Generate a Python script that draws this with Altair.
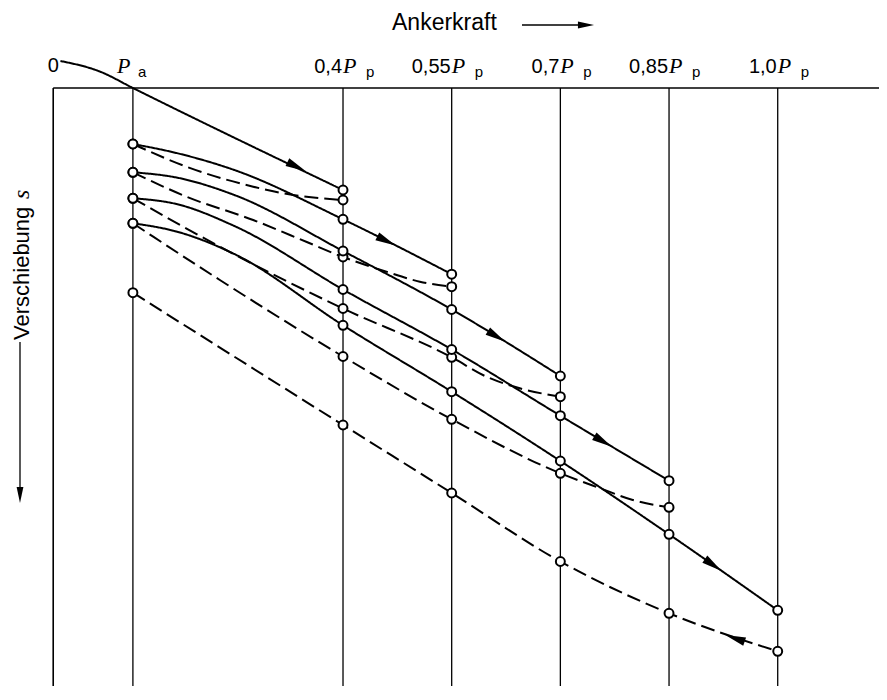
import altair as alt
import pandas as pd

# ---------------- data ----------------
# load levels as fraction of Pp (Pa is the pre-load)
PA = 0.11
levels = [PA, 0.4, 0.55, 0.7, 0.85, 1.0]
level_numbers = ["0,4", "0,55", "0,7", "0,85", "1,0"]

# each curve: load x, displacement s, measured point flag
virgin_x = [0.01, 0.065, 0.11, 0.4]
virgin_s = [-0.1, 0.97, 2.6, 12.8]
virgin_m = [0, 0, 0, 1]

u1_x = [PA, 0.184, 0.276, 0.331, 0.4]
u1_s = [8.2, 10.47, 12.47, 13.3, 13.8]
u1_m = [1, 0, 0, 0, 1]

r1_x = [PA, 0.17, 0.25, 0.4, 0.55]
r1_s = [8.2, 9.1, 10.8, 15.73, 21.22]
r1_m = [1, 0, 0, 1, 1]

u2_x = [PA, 0.184, 0.276, 0.350, 0.4, 0.46, 0.506, 0.55]
u2_s = [11.03, 13.47, 15.8, 18.0, 19.5, 20.97, 21.97, 22.47]
u2_m = [1, 0, 0, 0, 1, 0, 0, 1]

r2_x = [PA, 0.17, 0.25, 0.4, 0.55, 0.7]
r2_s = [11.03, 11.55, 13.3, 18.9, 24.75, 31.4]
r2_m = [1, 0, 0, 1, 1, 1]

u3_x = [PA, 0.23, 0.4, 0.55, 0.598, 0.644, 0.7]
u3_s = [13.63, 18.47, 24.65, 29.53, 31.47, 32.63, 33.47]
u3_m = [1, 0, 1, 1, 0, 0, 1]

r3_x = [PA, 0.17, 0.25, 0.4, 0.55, 0.7, 0.85]
r3_s = [13.63, 14.2, 16.4, 22.75, 28.75, 35.37, 41.87]
r3_m = [1, 0, 0, 1, 1, 1, 1]

u4_x = [PA, 0.138, 0.230, 0.4, 0.55, 0.7, 0.755, 0.80, 0.85]
u4_s = [16.13, 17.47, 21.8, 29.45, 35.73, 41.13, 42.63, 43.8, 44.53]
u4_m = [1, 0, 0, 1, 1, 1, 0, 0, 1]

r4_x = [PA, 0.17, 0.25, 0.4, 0.55, 0.7, 0.85, 1.0]
r4_s = [16.13, 16.95, 19.2, 26.33, 32.97, 39.9, 47.23, 54.83]
r4_m = [1, 0, 0, 1, 1, 1, 1, 1]

u5_x = [PA, 0.4, 0.55, 0.7, 0.85, 1.0]
u5_s = [23.07, 36.3, 43.1, 49.95, 55.13, 58.93]
u5_m = [1, 1, 1, 1, 1, 1]

# direction arrows on the curves
arrow_x = [0.336, 0.46, 0.612, 0.759, 0.911, 0.941]
arrow_s = [10.47, 17.9, 27.45, 37.95, 50.3, 57.63]
arrow_angle = [25.8, 26.8, 31.4, 30.9, 35.0, 199.3]

# ---------------- build tables ----------------
curves = [
    ("V", "solid", virgin_x, virgin_s, virgin_m),
    ("U1", "dashed", u1_x, u1_s, u1_m),
    ("R1", "solid", r1_x, r1_s, r1_m),
    ("U2", "dashed", u2_x, u2_s, u2_m),
    ("R2", "solid", r2_x, r2_s, r2_m),
    ("U3", "dashed", u3_x, u3_s, u3_m),
    ("R3", "solid", r3_x, r3_s, r3_m),
    ("U4", "dashed", u4_x, u4_s, u4_m),
    ("R4", "solid", r4_x, r4_s, r4_m),
    ("U5", "dashed", u5_x, u5_s, u5_m),
]
rows = []
for name, kind, xs, ss, ms in curves:
    for x, s, m in zip(xs, ss, ms):
        rows.append({"curve": name, "kind": kind, "x": x, "s": s, "m": m})
df = pd.DataFrame(rows)
pts = df[df.m == 1]
arrows = pd.DataFrame({"x": arrow_x, "s": arrow_s, "angle": arrow_angle})
lev = pd.DataFrame({"x": levels})
frame_left = pd.DataFrame({"x": [0.0]})
ticks = pd.DataFrame({"x": levels[1:], "num": level_numbers})

W, H = 871, 678
xsc = alt.Scale(domain=[-0.0624, 1.1398], nice=False, zero=False)
ysc = alt.Scale(domain=[-5.4, 62.4], nice=False, zero=False, reverse=True)
X = alt.X("x:Q", scale=xsc, axis=None)
Y = alt.Y("s:Q", scale=ysc, axis=None)

SANS = "Liberation Sans"
SERIF = "Liberation Serif"
HEAD = "M-1,-0.42L1,0L-1,0.42Z"

TOP = 80  # plot-pixel position of the top frame line

vlines = alt.Chart(lev).mark_rule(color="black", strokeWidth=1.3).encode(
    x=X, y=alt.value(TOP), y2=alt.value(H))
left = alt.Chart(frame_left).mark_rule(color="black", strokeWidth=1.6).encode(
    x=X, y=alt.value(TOP), y2=alt.value(H))
top = alt.Chart(frame_left).mark_rule(color="black", strokeWidth=1.6).encode(
    x=X, x2=alt.value(W), y=alt.value(TOP))

lines = alt.Chart(df).mark_line(color="black", strokeWidth=2, interpolate="monotone").encode(
    x=X, y=Y, detail="curve:N",
    strokeDash=alt.StrokeDash("kind:N", scale=alt.Scale(domain=["solid", "dashed"],
                                                         range=[[1, 0], [14, 6]]), legend=None))

circles = alt.Chart(pts).mark_point(shape="circle", filled=True, fill="white", stroke="black",
                                    strokeWidth=2, size=80, opacity=1).encode(x=X, y=Y)

arr = alt.Chart(arrows).mark_point(shape=HEAD, filled=True, color="black",
                                   size=420, opacity=1).encode(
    x=X, y=Y, angle=alt.Angle("angle:Q", scale=None))

# tick labels
num_t = alt.Chart(ticks).mark_text(font=SANS, fontSize=20, align="right", baseline="alphabetic",
                                   dx=-1, color="black").encode(x=X, y=alt.value(65), text="num:N")
P_t = alt.Chart(ticks).mark_text(font=SERIF, fontStyle="italic", fontSize=22, align="left",
                                 baseline="alphabetic", dx=0, color="black").encode(
    x=X, y=alt.value(65), text=alt.value("P"))
p_t = alt.Chart(ticks).mark_text(font=SANS, fontSize=15, align="left", baseline="alphabetic",
                                 dx=23, color="black").encode(x=X, y=alt.value(69), text=alt.value("p"))

pa_df = pd.DataFrame({"x": [PA]})
Pa_P = alt.Chart(pa_df).mark_text(font=SERIF, fontStyle="italic", fontSize=22, align="left",
                                  baseline="alphabetic", dx=-16, color="black").encode(
    x=X, y=alt.value(65), text=alt.value("P"))
Pa_a = alt.Chart(pa_df).mark_text(font=SANS, fontSize=15, align="left", baseline="alphabetic",
                                  dx=5, color="black").encode(x=X, y=alt.value(69), text=alt.value("a"))
zero_t = alt.Chart(frame_left).mark_text(font=SANS, fontSize=20, align="center", baseline="alphabetic",
                                         color="black").encode(x=X, y=alt.value(64), text=alt.value("0"))

# axis titles with arrows
one = pd.DataFrame({"a": [0]})
title_t = alt.Chart(one).mark_text(font=SANS, fontSize=23, align="left", baseline="alphabetic",
                                   color="black").encode(x=alt.value(384), y=alt.value(22),
                                                         text=alt.value("Ankerkraft"))
title_line = alt.Chart(one).mark_rule(color="black", strokeWidth=1.3).encode(
    x=alt.value(514), x2=alt.value(576), y=alt.value(17))
title_head = alt.Chart(one).mark_point(shape=HEAD, filled=True, color="black",
                                       size=260, opacity=1).encode(x=alt.value(578), y=alt.value(17))

yt = alt.Chart(one).mark_text(font=SANS, fontSize=22, align="left", baseline="middle", angle=270,
                              color="black").encode(x=alt.value(14), y=alt.value(332),
                                                    text=alt.value("Verschiebung"))
yt_s = alt.Chart(one).mark_text(font=SERIF, fontStyle="italic", fontSize=24, align="left",
                                baseline="middle", angle=270, color="black").encode(
    x=alt.value(14), y=alt.value(191), text=alt.value("s"))
y_line = alt.Chart(one).mark_rule(color="black", strokeWidth=1.3).encode(
    x=alt.value(12), y=alt.value(334), y2=alt.value(484))
y_head = alt.Chart(one).mark_point(shape=HEAD, filled=True, color="black",
                                   size=260, opacity=1, angle=90).encode(x=alt.value(12), y=alt.value(487))

chart = alt.layer(
    vlines, left, top, lines, arr, circles,
    num_t, P_t, p_t, Pa_P, Pa_a, zero_t,
    title_t, title_line, title_head, yt, yt_s, y_line, y_head
).properties(
    width=W, height=H, padding=0, autosize=alt.AutoSizeParams(type="none")
).configure_view(stroke=None)

chart.save("out.html", embed_options={"renderer": "svg", "actions": False})
